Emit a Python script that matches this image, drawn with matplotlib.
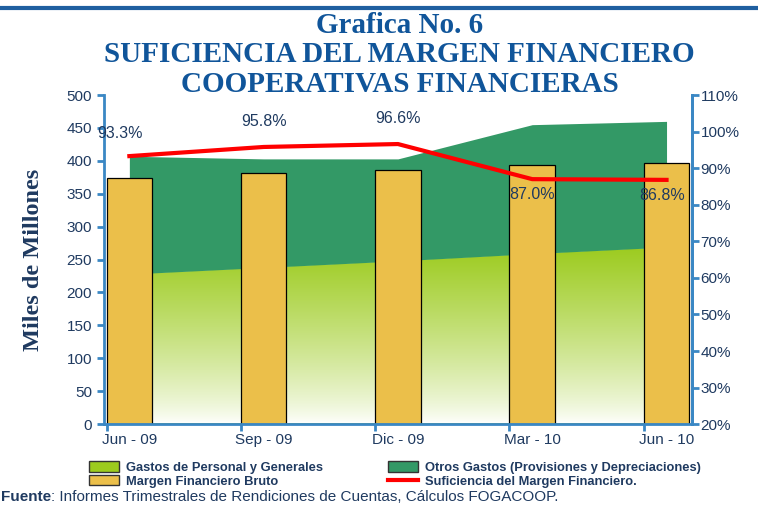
import numpy as np
import matplotlib.pyplot as plt
from matplotlib.patches import Patch
from matplotlib.lines import Line2D

# data
periodos = ['Jun - 09', 'Sep - 09', 'Dic - 09', 'Mar - 10', 'Jun - 10']
gastos_personal = [228, 238, 248, 259, 269]
otros_gastos = [179, 165, 155, 196, 191]
margen_bruto = [374, 381, 386, 394, 396]
suficiencia = [93.3, 95.8, 96.6, 87.0, 86.8]
etiquetas = ['93.3%', '95.8%', '96.6%', '87.0%', '86.8%']

NAVY = '#1F3A60'
AXBLUE = '#3A87C4'
TITLE_BLUE = '#10559A'
LIGHT_GREEN = '#9CCB1E'
DARK_GREEN = '#339966'
BAR_COLOR = '#EBBF4A'

plt.rcParams['font.family'] = ['Liberation Sans', 'DejaVu Sans']

fig = plt.figure(figsize=(7.58, 5.11), dpi=100)
ax = fig.add_axes([0.137, 0.170, 0.776, 0.644])

x = np.arange(len(periodos))
base = np.array(gastos_personal)
total = base + np.array(otros_gastos)

# light green area with vertical gradient
poly = ax.fill_between(x, 0, base, color='none', lw=0, zorder=1)
grad = np.linspace(0, 1, 256).reshape(-1, 1)
c_top = np.array([0x9c, 0xcb, 0x1e]) / 255
c_bot = np.array([1.0, 1.0, 1.0])
img = c_bot + (c_top - c_bot) * grad[..., None] ** 0.8
img = img.reshape(256, 1, 3)
im = ax.imshow(img, origin='lower', aspect='auto',
               extent=[x[0], x[-1], 0, max(gastos_personal)], zorder=1)
im.set_clip_path(poly.get_paths()[0], transform=ax.transData)
ax.plot([x[0], x[-1]], [0, 0], color=LIGHT_GREEN, lw=2, zorder=1.5)

# dark green stacked area
ax.fill_between(x, base, total, color=DARK_GREEN, lw=0, zorder=1)

# bars
ax.bar(x, margen_bruto, width=0.34, color=BAR_COLOR, edgecolor='black',
       linewidth=0.9, zorder=2)

ax.set_xlim(-0.19, 4.19)
ax.set_ylim(0, 500)
ax.set_yticks(range(0, 501, 50))
ax.set_xticks(x - 0.17)
ax.set_xticklabels([])
for i, lab in enumerate(periodos):
    ax.text(x[i], -14, lab, ha='center', va='top', fontsize=11, color=NAVY)

ax.spines['top'].set_visible(False)
for side in ['left', 'bottom', 'right']:
    ax.spines[side].set_color(AXBLUE)
    ax.spines[side].set_linewidth(2)
ax.tick_params(axis='both', colors=AXBLUE, labelcolor=NAVY, labelsize=11,
               direction='out', length=5, width=2)
ax.set_ylabel('Miles de Millones', family='Liberation Serif', weight='bold',
              fontsize=17.5, color=NAVY, labelpad=16)

# secondary axis with the ratio line
ax2 = ax.twinx()
ax2.set_xlim(ax.get_xlim())
ax2.set_ylim(20, 110)
ax2.set_yticks(range(20, 111, 10))
ax2.set_yticklabels([f'{v}%' for v in range(20, 111, 10)])
ax2.plot(x, suficiencia, color='#FF0000', lw=3, zorder=3)
for side in ['top', 'left', 'bottom']:
    ax2.spines[side].set_visible(False)
ax2.spines['right'].set_color(AXBLUE)
ax2.spines['right'].set_linewidth(2)
ax2.tick_params(axis='y', colors=AXBLUE, labelcolor=NAVY, labelsize=11,
                direction='out', length=5, width=2, pad=1)

offsets = [(-0.07, 4.2), (0, 5.0), (0, 5.0), (0, -2.2), (-0.03, -2.2)]
for i, lab in enumerate(etiquetas):
    dx, dy = offsets[i]
    ax2.text(x[i] + dx, suficiencia[i] + dy, lab, ha='center',
             va='bottom' if dy > 0 else 'top', fontsize=11.5, color=NAVY,
             zorder=4)

# titles
fig.add_artist(Line2D([0, 1], [0.984, 0.984], color='#1F5FA0', lw=3,
                      transform=fig.transFigure))
for txt, yy in [('Grafica No. 6', 0.950),
                ('SUFICIENCIA DEL MARGEN FINANCIERO', 0.893),
                ('COOPERATIVAS FINANCIERAS', 0.834)]:
    fig.text(0.527, yy, txt, ha='center', va='center', family='Liberation Serif',
             weight='bold', fontsize=21, color=TITLE_BLUE)

# legend
handles = [Patch(facecolor=LIGHT_GREEN, edgecolor='#333333'),
           Patch(facecolor=BAR_COLOR, edgecolor='#333333'),
           Patch(facecolor=DARK_GREEN, edgecolor='#333333'),
           Line2D([], [], color='#FF0000', lw=3)]
labels = ['Gastos de Personal y Generales', 'Margen Financiero Bruto',
          'Otros Gastos (Provisiones y Depreciaciones)',
          'Suficiencia del Margen Financiero.']
fig.legend(handles, labels, ncol=2, loc='upper left',
           bbox_to_anchor=(0.1095, 0.110), frameon=False,
           prop={'weight': 'bold', 'size': 9.3},
           labelcolor=NAVY, handlelength=2.3, handleheight=0.9,
           handletextpad=0.55, columnspacing=5.0, labelspacing=0.05,
           borderpad=0)

t = fig.text(0.001, 0.027, 'Fuente', fontsize=11, color=NAVY, ha='left',
             va='center', weight='bold')
fig.canvas.draw()
bb = t.get_window_extent().transformed(fig.transFigure.inverted())
fig.text(bb.x1, 0.027, ': Informes Trimestrales de Rendiciones de Cuentas, Cálculos FOGACOOP.',
         fontsize=11, color=NAVY, ha='left', va='center')

fig.savefig('out.png', dpi=100)
